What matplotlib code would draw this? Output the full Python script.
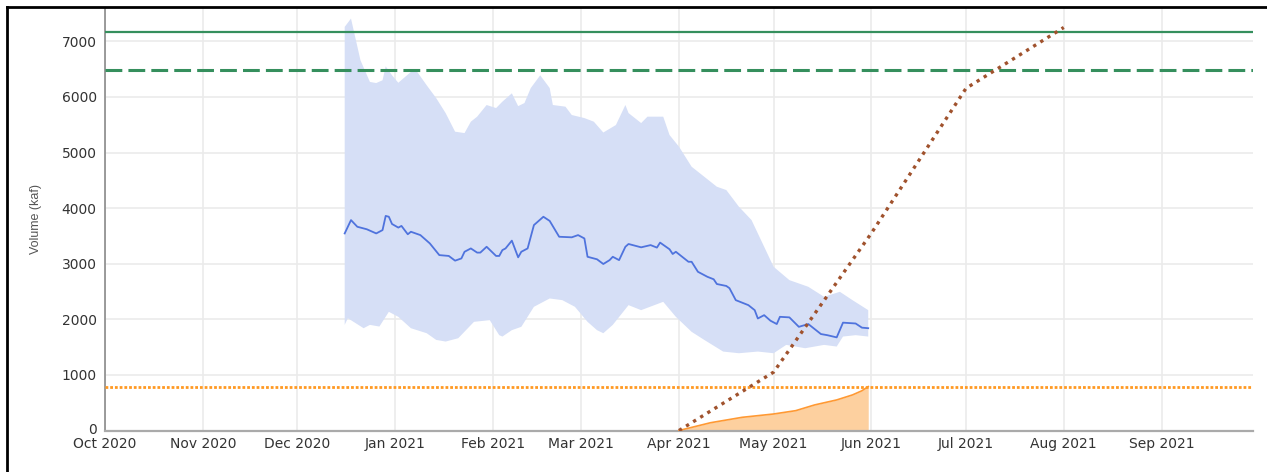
import numpy as np
import pandas as pd
import matplotlib
matplotlib.use("Agg")
from matplotlib import pyplot as plt
import matplotlib.dates as mdates
from matplotlib.lines import Line2D
from matplotlib.transforms import ScaledTranslation

# band (range of forecasts), upper edge
upper_dates = ["2020-12-16", "2020-12-18", "2020-12-21", "2020-12-24", "2020-12-26", "2020-12-28",
               "2020-12-29", "2020-12-31", "2021-01-02", "2021-01-06", "2021-01-08", "2021-01-11",
               "2021-01-14", "2021-01-17", "2021-01-20", "2021-01-23", "2021-01-25", "2021-01-27",
               "2021-01-30", "2021-02-02", "2021-02-04", "2021-02-07", "2021-02-09", "2021-02-11",
               "2021-02-13", "2021-02-16", "2021-02-19", "2021-02-20", "2021-02-24", "2021-02-26",
               "2021-03-02", "2021-03-05", "2021-03-08", "2021-03-12", "2021-03-15", "2021-03-16",
               "2021-03-20", "2021-03-22", "2021-03-27", "2021-03-29", "2021-04-01", "2021-04-05",
               "2021-04-09", "2021-04-13", "2021-04-16", "2021-04-20", "2021-04-24", "2021-04-27",
               "2021-05-01", "2021-05-06", "2021-05-12", "2021-05-17", "2021-05-22", "2021-05-26",
               "2021-05-31"]
upper_vals = [7260, 7410, 6660, 6270, 6250, 6300,
              6550, 6390, 6255, 6450, 6450, 6210,
              5980, 5710, 5375, 5350, 5555, 5645,
              5855, 5800, 5915, 6065, 5835, 5890,
              6160, 6390, 6160, 5855, 5825, 5675,
              5620, 5555, 5360, 5495, 5855, 5710,
              5530, 5645, 5645, 5315, 5105, 4745,
              4565, 4385, 4325, 4025, 3785, 3425,
              2945, 2705, 2585, 2405, 2495, 2345,
              2165]

# band lower edge
lower_dates = ["2020-12-16", "2020-12-17", "2020-12-22", "2020-12-24", "2020-12-27", "2020-12-30",
               "2021-01-02", "2021-01-06", "2021-01-11", "2021-01-14", "2021-01-17", "2021-01-21",
               "2021-01-26", "2021-01-31", "2021-02-03", "2021-02-04", "2021-02-07", "2021-02-10",
               "2021-02-14", "2021-02-19", "2021-02-23", "2021-02-27", "2021-03-03", "2021-03-06",
               "2021-03-08", "2021-03-11", "2021-03-16", "2021-03-20", "2021-03-27", "2021-03-31",
               "2021-04-05", "2021-04-09", "2021-04-15", "2021-04-20", "2021-04-26", "2021-05-01",
               "2021-05-05", "2021-05-11", "2021-05-17", "2021-05-21", "2021-05-23", "2021-05-27",
               "2021-05-31"]
lower_vals = [1900, 2020, 1840, 1900, 1870, 2135,
              2045, 1840, 1750, 1630, 1600, 1660,
              1955, 1985, 1715, 1690, 1805, 1865,
              2225, 2375, 2345, 2225, 1955, 1805,
              1750, 1900, 2255, 2165, 2315, 2045,
              1775, 1630, 1420, 1390, 1420, 1390,
              1540, 1480, 1540, 1510, 1690, 1715,
              1690]

# median forecast
median_dates = ["2020-12-16", "2020-12-18", "2020-12-20", "2020-12-23", "2020-12-26", "2020-12-28",
                "2020-12-29", "2020-12-30", "2020-12-31", "2021-01-02", "2021-01-03", "2021-01-05",
                "2021-01-06", "2021-01-09", "2021-01-12", "2021-01-15", "2021-01-18", "2021-01-20",
                "2021-01-22", "2021-01-23", "2021-01-25", "2021-01-27", "2021-01-28", "2021-01-30",
                "2021-02-02", "2021-02-03", "2021-02-04", "2021-02-05", "2021-02-07", "2021-02-09",
                "2021-02-10", "2021-02-12", "2021-02-14", "2021-02-17", "2021-02-19", "2021-02-22",
                "2021-02-26", "2021-02-28", "2021-03-02", "2021-03-03", "2021-03-06", "2021-03-08",
                "2021-03-10", "2021-03-11", "2021-03-13", "2021-03-15", "2021-03-16", "2021-03-20",
                "2021-03-23", "2021-03-25", "2021-03-26", "2021-03-29", "2021-03-30", "2021-03-31",
                "2021-04-04", "2021-04-05", "2021-04-07", "2021-04-10", "2021-04-12", "2021-04-13",
                "2021-04-16", "2021-04-17", "2021-04-19", "2021-04-23", "2021-04-25", "2021-04-26",
                "2021-04-28", "2021-04-30", "2021-05-02", "2021-05-03", "2021-05-06", "2021-05-09",
                "2021-05-12", "2021-05-16", "2021-05-18", "2021-05-21", "2021-05-23", "2021-05-27",
                "2021-05-29", "2021-05-31"]
median_vals = [3545, 3785, 3665, 3620, 3545, 3605,
               3860, 3845, 3715, 3650, 3680, 3530,
               3575, 3515, 3365, 3155, 3140, 3055,
               3095, 3215, 3275, 3200, 3200, 3305,
               3140, 3140, 3245, 3275, 3415, 3115,
               3215, 3275, 3695, 3845, 3770, 3485,
               3475, 3515, 3455, 3125, 3080, 2995,
               3065, 3125, 3065, 3305, 3355, 3295,
               3335, 3290, 3380, 3260, 3175, 3215,
               3035, 3035, 2855, 2765, 2720, 2635,
               2600, 2560, 2345, 2255, 2165, 2015,
               2075, 1975, 1915, 2045, 2035, 1865,
               1915, 1735, 1715, 1675, 1940, 1925,
               1850, 1840]

# observed cumulative volume
obs_dates = ["2021-04-01", "2021-04-11", "2021-04-21", "2021-05-01", "2021-05-08", "2021-05-14",
             "2021-05-21", "2021-05-26", "2021-05-29", "2021-05-31"]
obs_vals = [0, 140, 237, 297, 357, 460, 550, 640, 715, 790]

# cumulative trajectory (brown dotted)
traj_dates = ["2021-04-01", "2021-05-01", "2021-06-01", "2021-07-01", "2021-08-01"]
traj_vals = [0, 1050, 3550, 6155, 7250]

capacity = 7170
flood_level = 6480
min_level = 782

upper_d = pd.to_datetime(upper_dates)
lower_d = pd.to_datetime(lower_dates)

fig = plt.figure(figsize=(12.67, 4.72), dpi=100)
ax = fig.add_axes([105 / 1267, 1 - 430.5 / 472, (1253 - 105) / 1267, (430.5 - 8) / 472])

band_x = np.concatenate([mdates.date2num(upper_d), mdates.date2num(lower_d)[::-1]])
band_y = np.concatenate([upper_vals, lower_vals[::-1]])
ax.fill(band_x, band_y, color="#d6dff6", lw=0, zorder=2)
ax.plot(pd.to_datetime(median_dates), median_vals, color="#4f73dd", lw=1.3, zorder=3)

od = pd.to_datetime(obs_dates)
ax.fill_between(od, 0, obs_vals, color="#fdd09f", lw=0, zorder=2)
ax.plot(od, obs_vals, color="#ff9933", lw=1.2, zorder=3)

ax.axhline(capacity, color="#358f5d", lw=1.6, zorder=4)
ax.axhline(flood_level, color="#358f5d", lw=2.2, dashes=(5.5, 2), zorder=4)
ax.axhline(min_level, color="#ff9922", lw=2.0, dashes=(1, 0.7), zorder=4)

ax.plot(pd.to_datetime(traj_dates), traj_vals, color="#a0522d", lw=2.4,
        dashes=(1, 1.5), zorder=5)

ax.set_xlim(pd.Timestamp("2020-10-01"), pd.Timestamp("2021-09-30"))
ax.set_ylim(0, 7600)
ax.xaxis.set_major_locator(mdates.MonthLocator())
ax.xaxis.set_major_formatter(mdates.DateFormatter("%b %Y"))
ax.set_yticks(range(0, 8000, 1000))
ax.grid(True, color="#ebebeb", lw=1.2, zorder=0)
ax.set_axisbelow(True)
ax.tick_params(length=0, labelsize=10, labelcolor="#333333")
ax.tick_params(axis="y", pad=6)
ax.tick_params(axis="x", pad=5)
for s in ("top", "right"):
    ax.spines[s].set_visible(False)
ax.spines["left"].set_color("#8a8a8a")
ax.spines["left"].set_linewidth(1.2)
ax.spines["bottom"].set_color("#aaaaaa")
ax.spines["bottom"].set_linewidth(1.6)
ax.set_ylabel("Volume (kaf)", family="Liberation Sans", fontsize=9, color="#555555", labelpad=14)

# lift the "0" label a touch so it clears "Oct 2020"
zero_lbl = ax.yaxis.get_major_ticks()[0].label1
zero_lbl.set_transform(zero_lbl.get_transform() + ScaledTranslation(0, 1.5 / 72, fig.dpi_scale_trans))

# screenshot frame (top and left edges)
fig.add_artist(Line2D([6.5 / 1267, 1], [1 - 6.5 / 472] * 2, color="black", lw=2, transform=fig.transFigure))
fig.add_artist(Line2D([6.5 / 1267] * 2, [0, 1 - 6.5 / 472], color="black", lw=2, transform=fig.transFigure))

fig.savefig("out.png", dpi=100)
